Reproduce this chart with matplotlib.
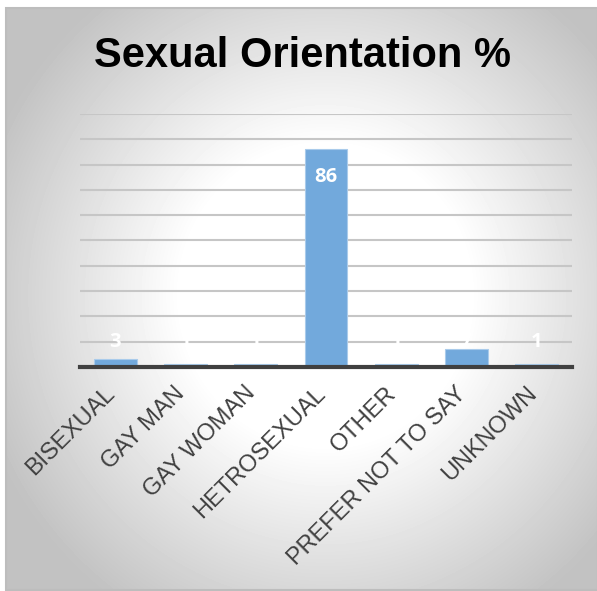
import numpy as np
import matplotlib.pyplot as plt
from matplotlib.patches import Rectangle
from matplotlib.transforms import ScaledTranslation

categories = ["BISEXUAL", "GAY MAN", "GAY WOMAN", "HETROSEXUAL", "OTHER",
              "PREFER NOT TO SAY", "UNKNOWN"]
values = [3, 1, 1, 86, 1, 7, 1]

W, H = 597, 591
fig = plt.figure(figsize=(W / 100, H / 100), dpi=100)
fig.patch.set_facecolor("white")

# background panel, white in the middle fading to grey at the edges
bg = fig.add_axes([0, 0, 1, 1], zorder=0)
bg.set_xlim(0, W)
bg.set_ylim(H, 0)
bg.axis("off")
yy, xx = np.mgrid[8:590, 6:W]
r = np.sqrt(((xx - 325) / 290.0) ** 2 + ((yy - 295) / 300.0) ** 2)
shade = 1 - 0.24 * np.clip((r - 0.5) / 0.75, 0, 1)
bg.imshow(shade, cmap="gray", vmin=0, vmax=1, extent=(6, W, 590, 8),
          interpolation="bilinear")
bg.add_patch(Rectangle((6, 8), W - 5, 582, fill=False, ec="#bdbdbd", lw=1.5))

ax = fig.add_axes([80 / W, (H - 367) / H, 492 / W, 253 / H], zorder=1)
ax.patch.set_alpha(0)

x = np.arange(len(categories))
ax.bar(x, values, width=0.61, color="#72a9dc", edgecolor="#a9cbeb", lw=0.8,
       zorder=3)

ax.set_xlim(-0.5, len(categories) - 0.5)
ax.set_ylim(0, 100)
ax.set_yticks(np.arange(0, 101, 10))
ax.set_yticklabels([])
ax.tick_params(axis="y", length=0)
ax.yaxis.grid(True, color="#c6c6c6", lw=1.5, zorder=0)
for s in ["top", "right", "left"]:
    ax.spines[s].set_visible(False)
ax.spines["bottom"].set_color("#404040")
ax.spines["bottom"].set_linewidth(3)
ax.spines["bottom"].set_zorder(4)

ax.set_xticks(x)
ax.set_xticklabels(categories, rotation=45, ha="right", va="top",
                   fontsize=17, color="#404040", family="Liberation Sans")
ax.tick_params(axis="x", length=0, pad=11)
shift = ScaledTranslation(4 / 100, 0, fig.dpi_scale_trans)
for lab in ax.get_xticklabels():
    lab.set_transform(lab.get_transform() + shift)

for xi, v in zip(x, values):
    if v > 20:
        ax.annotate(f"{v:.0f}", (xi, v), xytext=(0, -20), textcoords="offset points",
                    ha="center", va="center", color="white", fontsize=14.5,
                    fontweight="bold", family="Open Sans", zorder=5)
    else:
        ax.annotate(f"{v:.0f}", (xi, 0), xytext=(0, 18), textcoords="offset points",
                    ha="center", va="center", color="white", fontsize=14.5,
                    fontweight="bold", family="Open Sans", zorder=5)

fig.text(303 / W, 1 - 56 / H, "Sexual Orientation %", ha="center", va="center",
         fontsize=30, fontweight="bold", family="Liberation Sans", color="black")

fig.savefig("out.png", dpi=100)
